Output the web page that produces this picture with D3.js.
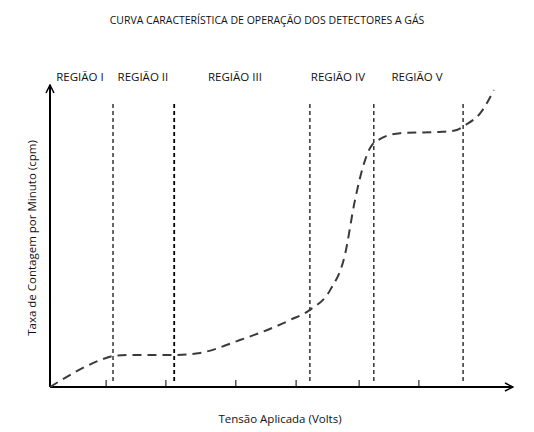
<!DOCTYPE html>
<html>
<head>
<meta charset="utf-8">
<script src="https://cdn.jsdelivr.net/npm/d3@7"></script>
<style>
  body { margin: 0; background: #fff; }
  text { font-family: "Open Sans", "Noto Sans", sans-serif; fill: #111; }
</style>
</head>
<body>
<svg id="chart" width="534" height="432"></svg>
<script>
// curve (voltage %, count rate %)
const tensao = [0, 12.2, 13.7, 17.4, 27, 32.6, 41.3, 52.2, 56.5, 60.9, 64.1, 66.3, 68.5, 70.4, 76.1, 84.8, 88, 90.5, 93.5, 96.5];
const contagem = [0, 9.7, 10.4, 10.7, 10.7, 11.4, 15.7, 22.4, 25.8, 32.4, 44.1, 62.5, 75.9, 81.6, 84.9, 85.3, 85.8, 87.8, 91.5, 99.3];
const limites = [13.7, 27, 56.5, 70.4, 89.8];
const regioes = ["REGIÃO I", "REGIÃO II", "REGIÃO III", "REGIÃO IV", "REGIÃO V"];
const posRegioes = [6.5, 20.2, 40.2, 62.6, 79.8];
const ticks = [12.2, 25.2, 40.4, 53.5, 67.2, 80.2];

const svg = d3.select("#chart");
const x = d3.scaleLinear().domain([0, 100]).range([50, 510]);
const y = d3.scaleLinear().domain([0, 100]).range([387, 88]);

svg.append("defs").append("marker")
  .attr("id", "arrow").attr("viewBox", "0 0 10 10")
  .attr("refX", 9).attr("refY", 5)
  .attr("markerWidth", 10).attr("markerHeight", 10)
  .attr("markerUnits", "userSpaceOnUse")
  .attr("orient", "auto")
  .append("path").attr("d", "M1,1 L9,5 L1,9")
  .attr("fill", "none").attr("stroke", "#000").attr("stroke-width", 1.5);

// title
svg.append("text").attr("x", 267).attr("y", 24).attr("text-anchor", "middle")
  .attr("font-size", 10.5).text("CURVA CARACTERÍSTICA DE OPERAÇÃO DOS DETECTORES A GÁS");

// region boundaries
svg.selectAll(".limite").data(limites).join("line")
  .attr("x1", d => x(d)).attr("x2", d => x(d))
  .attr("y1", 104).attr("y2", y(1))
  .attr("stroke", "#000").attr("stroke-width", (d, i) => i == 1 ? 1.8 : 1.2)
  .attr("stroke-dasharray", "4,3");

svg.selectAll(".regiao").data(regioes).join("text")
  .attr("x", (d, i) => x(posRegioes[i])).attr("y", 81)
  .attr("text-anchor", "middle").attr("font-size", 11.5).text(d => d);

// axes
svg.append("line").attr("x1", x(0)).attr("y1", y(0)).attr("x2", 513).attr("y2", y(0))
  .attr("stroke", "#000").attr("stroke-width", 2).attr("marker-end", "url(#arrow)");
svg.append("line").attr("x1", x(0)).attr("y1", y(0)).attr("x2", x(0)).attr("y2", 85)
  .attr("stroke", "#000").attr("stroke-width", 2).attr("marker-end", "url(#arrow)");

svg.selectAll(".tick").data(ticks).join("line")
  .attr("x1", d => x(d)).attr("x2", d => x(d))
  .attr("y1", y(0) - 7).attr("y2", y(0))
  .attr("stroke", "#000").attr("stroke-width", 1);

svg.append("text").attr("x", 280).attr("y", 423).attr("text-anchor", "middle")
  .attr("font-size", 11.5).text("Tensão Aplicada (Volts)");
svg.append("text").attr("transform", "translate(36,238) rotate(-90)")
  .attr("text-anchor", "middle").attr("font-size", 11.5)
  .text("Taxa de Contagem por Minuto (cpm)");

// curve
const pts = tensao.map((t, i) => [t, contagem[i]]);
svg.append("path").datum(pts)
  .attr("fill", "none").attr("stroke", "#3a3a3a").attr("stroke-width", 2)
  .attr("stroke-dasharray", "9,6")
  .attr("d", d3.line().x(d => x(d[0])).y(d => y(d[1])).curve(d3.curveMonotoneX));
</script>
</body>
</html>
